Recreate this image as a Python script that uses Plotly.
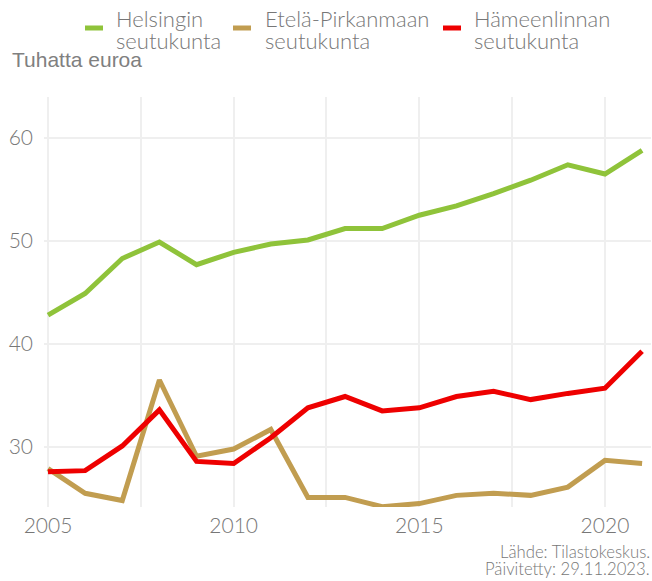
import plotly.graph_objects as go

years = list(range(2005, 2022))
helsinki = [42.8, 44.9, 48.3, 49.9, 47.7, 48.9, 49.7, 50.1, 51.2, 51.2, 52.5, 53.4, 54.6, 55.9, 57.4, 56.5, 58.8]
etela_pirkanmaa = [27.9, 25.5, 24.8, 36.5, 29.1, 29.8, 31.7, 25.1, 25.1, 24.2, 24.5, 25.3, 25.5, 25.3, 26.1, 28.7, 28.4]
hameenlinna = [27.6, 27.7, 30.1, 33.6, 28.6, 28.4, 30.9, 33.8, 34.9, 33.5, 33.8, 34.9, 35.4, 34.6, 35.2, 35.7, 39.3]

names = [["Helsingin", "seutukunta"], ["Etelä-Pirkanmaan", "seutukunta"], ["Hämeenlinnan", "seutukunta"]]
colors = ["#8FC33A", "#C19D50", "#EE0000"]
series = [helsinki, etela_pirkanmaa, hameenlinna]

W, H = 652, 581
L, R, T, B = 44, 1, 97, 74
pw, ph = W - L - R, H - T - B

def px(x):
    return (x - L) / pw

def py(y):
    return (H - B - y) / ph

fig = go.Figure()
for nm, col, vals in zip(names, colors, series):
    fig.add_trace(go.Scatter(x=years, y=vals, name=" ".join(nm), mode="lines",
                             line=dict(color=col, width=5), showlegend=False))

grid = "#EFEFEF"
tfont = dict(size=21, color="#777777", family="Lato", weight=300)
fig.update_layout(
    width=W, height=H,
    margin=dict(l=L, r=R, t=T, b=B),
    paper_bgcolor="white", plot_bgcolor="white",
    font=dict(family="Lato", color="#777777"),
    showlegend=False,
    xaxis=dict(range=[2004.892, 2021.24], dtick=5, tick0=2005, showgrid=True, gridcolor=grid,
               gridwidth=1.5, zeroline=False, showline=False, ticks="", automargin=False,
               tickfont=tfont, ticklabelstandoff=4,
               minor=dict(dtick=2.5, tick0=2005, showgrid=True, gridcolor=grid, gridwidth=1.5)),
    yaxis=dict(range=[24.17, 63.98], dtick=10, tick0=0, showgrid=True, gridcolor=grid,
               gridwidth=1.5, zeroline=False, showline=False, ticks="", automargin=False,
               tickfont=tfont, ticklabelstandoff=10),
)

# custom legend
sym_x = [85, 233, 443]
txt_x = [116, 265, 474]
for i in range(3):
    fig.add_shape(type="line", xref="paper", yref="paper",
                  x0=px(sym_x[i]), x1=px(sym_x[i] + 18), y0=py(28), y1=py(28),
                  line=dict(color=colors[i], width=5))
    for j, yy in enumerate([18, 40]):
        fig.add_annotation(text=names[i][j], xref="paper", yref="paper",
                           x=px(txt_x[i] - 2), y=py(yy), xanchor="left", yanchor="middle",
                           showarrow=False,
                           font=dict(family="Lato", size=22, color="#777777", weight=300))

fig.add_annotation(text="Tuhatta euroa", xref="paper", yref="paper", x=px(10), y=py(60),
                   xanchor="left", yanchor="middle", showarrow=False,
                   font=dict(family="Liberation Sans", size=21, color="#808080"))
for txt, yy in [("Lähde: Tilastokeskus.", 552), ("Päivitetty: 29.11.2023.", 569)]:
    fig.add_annotation(text=txt, xref="paper", yref="paper", x=px(652), y=py(yy),
                       xanchor="right", yanchor="middle", showarrow=False,
                       font=dict(family="Lato", size=16.7, color="#777777", weight=300))

fig.write_html("out.html", config={"displayModeBar": False},
               post_script="document.body.style.margin='0';")
